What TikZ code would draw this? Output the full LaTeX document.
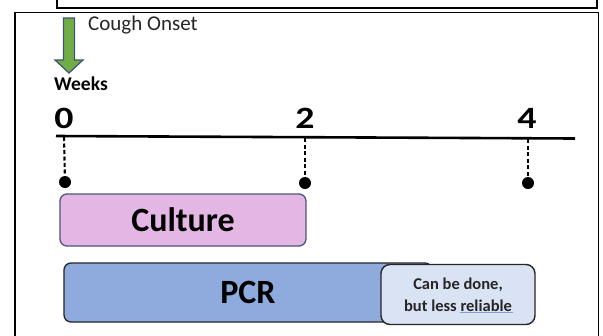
\documentclass[tikz,border=0pt]{standalone}
\usepackage{fontspec}
\setmainfont{Carlito}
\definecolor{arrowgreen}{HTML}{70AD47}
\definecolor{arrowedge}{HTML}{3E5470}
\definecolor{culturefill}{HTML}{E4B6E4}
\definecolor{cultureedge}{HTML}{4A5878}
\definecolor{pcrfill}{HTML}{8FAADC}
\definecolor{notefill}{HTML}{DAE3F3}
\definecolor{darkedge}{HTML}{262626}
\definecolor{squiggle}{HTML}{7F9FD6}
\newcommand{\widedigit}[1]{\scalebox{1.22}[1]{#1}}
\begin{document}
\begin{tikzpicture}[x=1bp,y=-1bp,
  frameline/.style={line width=1.5bp,draw=black},
  digit/.style={font=\bfseries\fontsize{31bp}{33bp}\selectfont,inner sep=0pt},
  dotnode/.style={circle,fill=black,minimum size=12bp,inner sep=0pt},
  tickline/.style={line width=2.1bp,dash pattern=on 4bp off 2.5bp},
  barbox/.style={rounded corners=7bp,line width=1.3bp,inner sep=0pt,
    font=\bfseries\fontsize{34bp}{36bp}\selectfont},
]
\useasboundingbox (0,0) rectangle (603,335);
\fill[white] (0,0) rectangle (603,335);
% frames
\draw[frameline] (57,-5) -- (57,8) -- (597,8) -- (597,-5);
\draw[frameline] (15,345) -- (15,12.5) -- (598.5,12.5) -- (598.5,345);
% green block arrow
\draw[fill=arrowgreen,draw=arrowedge,line width=1.2bp,line join=miter]
  (63.5,18) -- (74.5,18) -- (74.5,60) -- (83,60) -- (69,73) -- (55,60) -- (63.5,60) -- cycle;
\node[anchor=west,inner sep=0pt,text=darkedge,font=\fontsize{21bp}{24bp}\selectfont] (onset) at (88,25) {Cough Onset};
\node[anchor=west,inner sep=0pt,font=\bfseries\fontsize{19.5bp}{22bp}\selectfont] (weeks) at (54,84) {Weeks};
% axis
\coordinate (axl) at (56,136);
\coordinate (axr) at (575,138.5);
\draw[line width=2.6bp] (axl) -- (axr);
\node[digit] (n0) at (64,118) {\widedigit{0}};
\node[digit] (n2) at (305,118) {\widedigit{2}};
\node[digit] (n4) at (527,118) {\widedigit{4}};
\coordinate (t0) at (64,137);
\coordinate (t2) at (305,138);
\coordinate (t4) at (528,139);
\node[dotnode] (d0) at (65,182) {};
\node[dotnode] (d2) at (305,183) {};
\node[dotnode] (d4) at (528,183) {};
\draw[tickline] (t0) -- (d0);
\draw[tickline] (t2) -- (d2);
\draw[tickline] (t4) -- (d4);
% bars
\node[barbox,draw=cultureedge,fill=culturefill,minimum width=246bp,minimum height=52bp] (culture) at (183,220) {Culture};
\node[barbox,draw=darkedge,fill=pcrfill,minimum width=368bp,minimum height=59bp] (pcr) at (248,292.5) {PCR};
\node[rounded corners=9bp,line width=1.4bp,draw=darkedge,fill=notefill,minimum width=154bp,minimum height=60bp,inner sep=0pt,align=center,
  font=\bfseries\fontsize{16.5bp}{22bp}\selectfont,text=darkedge] (note) at (458,294.5) {Can be done,\\but less reliable};
\draw[squiggle,line width=0.9bp] (460,312.5) -- (513,312.5);
\end{tikzpicture}
\end{document}
